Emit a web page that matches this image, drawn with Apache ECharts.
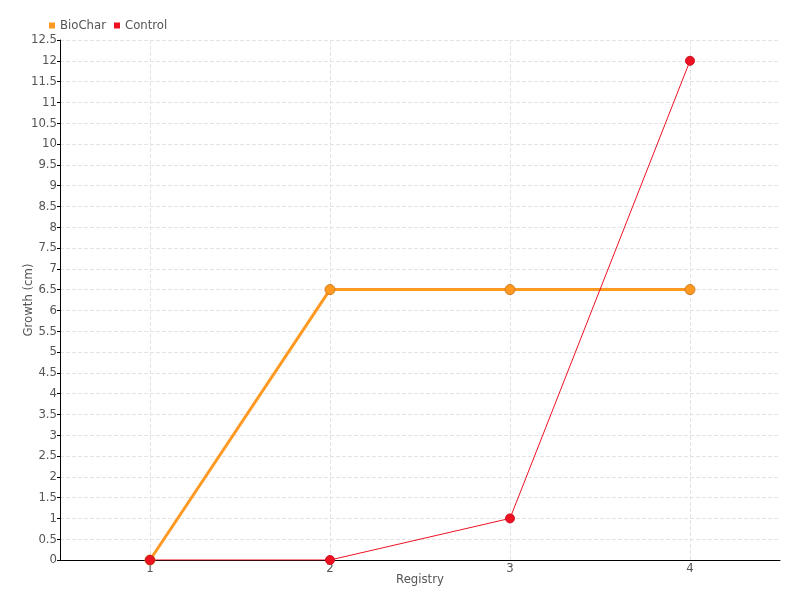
<!DOCTYPE html>
<html><head><meta charset="utf-8">
<script src="https://cdn.jsdelivr.net/npm/echarts@6/dist/echarts.min.js"></script>
<style>html,body{margin:0;padding:0;background:#fff}#c{width:800px;height:600px}</style>
</head><body><div id="c"></div>
<script>
const categories = ['1', '2', '3', '4'];
const bioChar = [0, 6.5, 6.5, 6.5];
const control = [0, 0, 1, 12];
const seriesNames = ['BioChar', 'Control'];

const font = 'DejaVu Sans Condensed, sans-serif';
const chart = echarts.init(document.getElementById('c'));
chart.setOption({
  animation: false,
  textStyle: { fontFamily: font },
  legend: {
    left: 44, top: 14, itemWidth: 6, itemHeight: 6, itemGap: 8,
    icon: 'rect',
    itemStyle: { borderWidth: 0 },
    textStyle: { fontFamily: font, fontSize: 13, color: '#555' },
    data: seriesNames
  },
  grid: { left: 60, right: 20, top: 40, bottom: 40, containLabel: false },
  xAxis: {
    type: 'category', data: categories, boundaryGap: true,
    name: 'Registry', nameLocation: 'middle', nameGap: 13, nameMoveOverlap: false,
    nameTextStyle: { fontFamily: font, fontSize: 13, color: '#555' },
    axisLine: { lineStyle: { color: '#000', width: 1 } },
    axisTick: { alignWithLabel: true, length: 4, lineStyle: { color: '#000' } },
    axisLabel: { fontFamily: font, fontSize: 13, color: '#555', margin: 2 },
    splitLine: { show: true, alignWithLabel: true, lineStyle: { type: 'dashed', color: '#e4e4e4' } }
  },
  yAxis: {
    type: 'value', min: 0, max: 12.5, interval: 0.5,
    name: 'Growth (cm)', nameLocation: 'middle', nameGap: 25, nameMoveOverlap: false,
    nameTextStyle: { fontFamily: font, fontSize: 13, color: '#555' },
    axisLine: { show: true, lineStyle: { color: '#000', width: 1 } },
    axisTick: { show: true, length: 3, lineStyle: { color: '#000' } },
    axisLabel: { fontFamily: font, fontSize: 13, color: '#555', margin: 3 },
    splitLine: { show: true, lineStyle: { type: 'dashed', color: '#e4e4e4' } }
  },
  series: [
    {
      name: seriesNames[0], type: 'line', data: bioChar,
      color: '#ff9922',
      lineStyle: { width: 3, color: '#ff9922' },
      symbol: 'circle', symbolSize: 10,
      itemStyle: { color: '#ff9922', borderColor: '#d07a1a', borderWidth: 1 }
    },
    {
      name: seriesNames[1], type: 'line', data: control,
      color: '#ee1122',
      lineStyle: { width: 1, color: '#ee1122' },
      symbol: 'circle', symbolSize: 9,
      itemStyle: { color: '#ee1122', borderColor: '#cc1020', borderWidth: 1 }
    }
  ]
});
</script></body></html>
